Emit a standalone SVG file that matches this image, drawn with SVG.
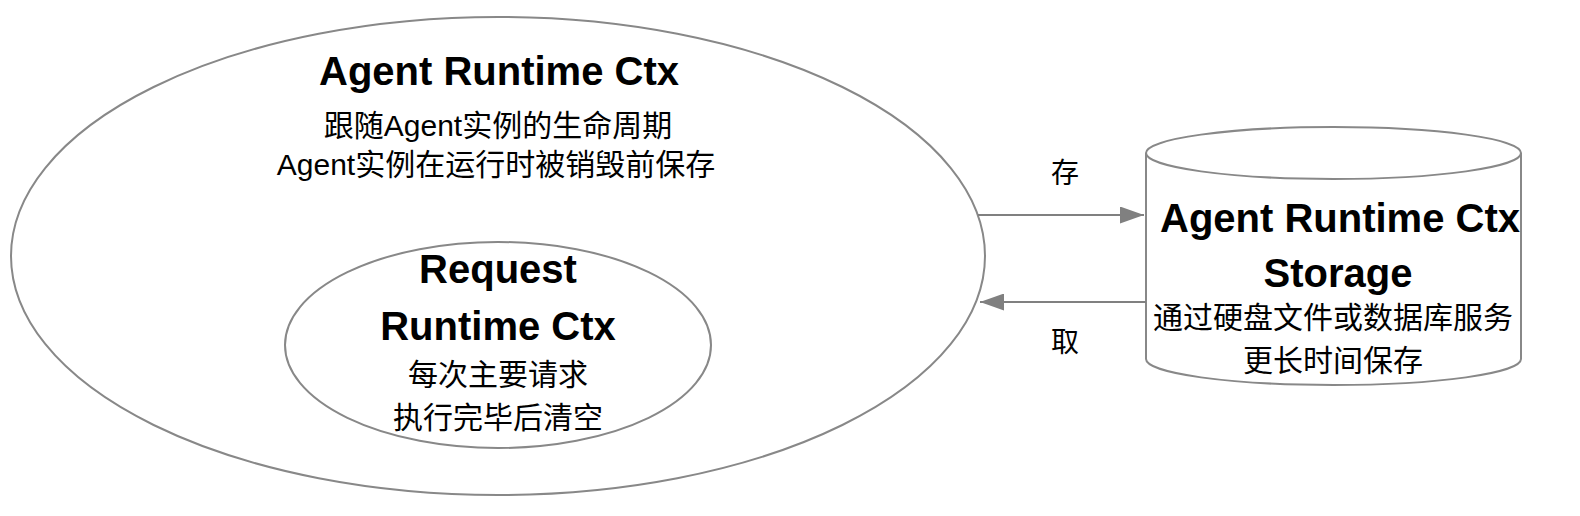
<svg xmlns="http://www.w3.org/2000/svg" width="1580" height="516" viewBox="0 0 1580 516">
<style>
.shape{fill:#ffffff;stroke:#888888;stroke-width:2}
.t{font-family:"Liberation Sans","Noto Sans CJK SC",sans-serif;fill:#000000;text-anchor:middle}
.b{font-weight:bold;font-size:40px}
.r{font-size:30px}
.lbl{font-size:28px}
.conn{stroke:#808080;stroke-width:2;fill:none}
</style>
<defs>
<marker id="arr" viewBox="0 0 24 17" refX="24" refY="8.5" markerWidth="24" markerHeight="17" markerUnits="userSpaceOnUse" orient="auto">
<path d="M0,0 L24,8.5 L0,17 Z" fill="#808080"/>
</marker>
</defs>
<g id="agent-runtime-ctx">
<ellipse class="shape" cx="498" cy="256" rx="487" ry="239"/>
<text class="t b" x="499" y="85">Agent Runtime Ctx</text>
<text class="t r" x="498" y="136">跟随Agent实例的生命周期</text>
<text class="t r" x="496" y="175">Agent实例在运行时被销毁前保存</text>
</g>
<g id="request-runtime-ctx">
<ellipse class="shape" cx="498" cy="345" rx="213" ry="103"/>
<text class="t b" x="498" y="283">Request</text>
<text class="t b" x="498" y="340">Runtime Ctx</text>
<text class="t r" x="498" y="385">每次主要请求</text>
<text class="t r" x="498" y="428">执行完毕后清空</text>
</g>
<g id="storage">
<path class="shape" d="M1146,153 L1146,359 A187.5,26 0 0 0 1521,359 L1521,153 A187.5,26 0 0 0 1146,153 Z"/>
<path class="shape" fill="none" d="M1146,153 A187.5,26 0 0 0 1521,153"/>
<text class="t b" x="1340" y="232">Agent Runtime Ctx</text>
<text class="t b" x="1338" y="287">Storage</text>
<text class="t r" x="1333" y="328">通过硬盘文件或数据库服务</text>
<text class="t r" x="1333" y="371">更长时间保存</text>
</g>
<g id="connectors">
<line class="conn" x1="978" y1="215" x2="1144" y2="215" marker-end="url(#arr)"/>
<line class="conn" x1="1146" y1="302" x2="980" y2="302" marker-end="url(#arr)"/>
<text class="t lbl" x="1065" y="183">存</text>
<text class="t lbl" x="1065" y="352">取</text>
</g>
</svg>
